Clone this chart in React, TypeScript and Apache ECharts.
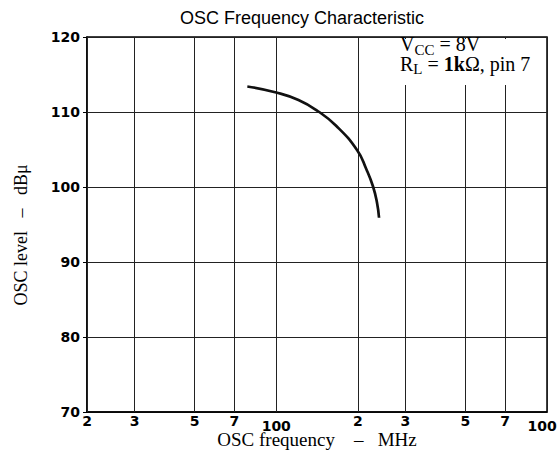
import React, { useEffect, useRef } from "react";
import * as echarts from "echarts";

// Curve (OSC frequency in MHz, OSC level in dBµ)
const freqMHz = [78.2, 100, 120.8, 142.6, 166, 199, 215, 227.6, 235.6, 239.7];
const levelDb = [113.4, 112.6, 111.6, 110.1, 108.2, 104.9, 102.4, 100.1, 97.9, 95.9];

// x-axis grid / tick positions and their printed labels
const xTickValues = [20, 30, 50, 70, 100, 200, 300, 500, 700, 1000];
const xTickLabels = ["2", "3", "5", "7", "100", "2", "3", "5", "7", "1000"];

// y-axis range
const yMin = 70;
const yMax = 120;
const yStep = 10;

const TITLE = "OSC Frequency Characteristic";
const X_NAME = "OSC frequency    \u2013   MHz";
const Y_NAME = "OSC level   \u2013   dB\u03bc";

export default function App() {
  const ref = useRef<HTMLDivElement>(null);

  useEffect(() => {
    if (!ref.current) return;
    const chart = echarts.init(ref.current, undefined, { renderer: "svg" });
    const serif = "Liberation Serif";
    const digits = "DejaVu Sans";
    const main = (x: number, y: number, text: string) => ({
      type: "text",
      z: 51,
      x,
      y,
      style: { text, fontFamily: serif, fontSize: 20, lineHeight: 16, fill: "#000", verticalAlign: "middle" },
    });
    const sub = (x: number, y: number, text: string) => ({
      type: "text",
      z: 51,
      x,
      y,
      style: { text, fontFamily: serif, fontSize: 15, lineHeight: 11, fill: "#000", verticalAlign: "middle" },
    });

    chart.setOption({
      animation: false,
      backgroundColor: "#fff",
      title: {
        text: TITLE,
        left: 175,
        top: 4,
        textStyle: { fontFamily: "Liberation Sans", fontSize: 18, fontWeight: "normal", color: "#000" },
      },
      grid: {
        left: 87,
        right: 10,
        top: 37,
        bottom: 45,
        show: true,
        borderColor: "#000",
        borderWidth: 1.5,
        backgroundColor: "transparent",
      },
      xAxis: {
        type: "log",
        logBase: 10,
        min: 20,
        max: 1000,
        axisLine: { show: true, lineStyle: { color: "#000", width: 1.5 } },
        axisTick: { show: false },
        axisLabel: { show: false },
        splitLine: { show: false },
        minorTick: { show: false },
        minorSplitLine: { show: false },
        name: X_NAME,
        nameLocation: "middle",
        nameGap: 20,
        nameTextStyle: { fontFamily: serif, fontSize: 19, lineHeight: 14, color: "#000" },
      },
      yAxis: {
        type: "value",
        min: yMin,
        max: yMax,
        interval: yStep,
        axisLine: { show: true, lineStyle: { color: "#000", width: 1.5 } },
        axisTick: { show: true, length: 4, lineStyle: { color: "#000" } },
        axisLabel: {
          fontFamily: digits,
          fontSize: 14,
          fontWeight: "bold",
          color: "#000",
          margin: 7,
          padding: [0, 0, 8, 0],
        },
        splitLine: { show: true, lineStyle: { color: "#222", width: 1 } },
      },
      series: [
        {
          type: "line",
          data: freqMHz.map((f, i) => [f, levelDb[i]]),
          smooth: 0.5,
          symbol: "none",
          lineStyle: { color: "#111", width: 2.7 },
          emphasis: { disabled: true },
          z: 5,
          markLine: {
            silent: true,
            symbol: ["none", "none"],
            lineStyle: { color: "#222", type: "solid", width: 1 },
            label: {
              show: true,
              position: "start",
              color: "#000",
              fontFamily: digits,
              fontSize: 14,
              fontWeight: "bold",
              lineHeight: 11,
            },
            emphasis: { disabled: true },
            data: xTickValues.map((v, i) => ({
              xAxis: v,
              label: {
                formatter: xTickLabels[i],
                distance: xTickLabels[i].length > 2 ? 8 : 3,
              },
            })),
          },
        },
      ],
      graphic: [
        {
          type: "rect",
          z: 50,
          shape: { x: 392, y: 39, width: 153, height: 46 },
          style: { fill: "#fff" },
        },
        main(400, 44, "V"),
        sub(414.4, 49.7, "CC"),
        main(434.4, 44, " = 8V"),
        main(400, 63.8, "R"),
        sub(413.3, 69.4, "L"),
        {
          type: "text",
          z: 51,
          x: 422.5,
          y: 63.8,
          style: {
            text: "{n| = }{b|1k}{n|\u03a9, pin 7}",
            fill: "#000",
            verticalAlign: "middle",
            rich: {
              n: { fontFamily: serif, fontSize: 20, lineHeight: 16, fill: "#000" },
              b: { fontFamily: serif, fontSize: 20, lineHeight: 16, fontWeight: "bold", fill: "#000" },
            },
          },
        },
        {
          type: "text",
          x: 21,
          y: 235,
          rotation: Math.PI / 2,
          style: {
            text: Y_NAME,
            fontFamily: serif,
            fontSize: 18,
            fill: "#000",
            align: "center",
            verticalAlign: "middle",
          },
        },
      ],
    });

    return () => chart.dispose();
  }, []);

  return (
    <div
      ref={ref}
      style={{ position: "fixed", left: 0, top: 0, width: 557, height: 457 }}
    />
  );
}
